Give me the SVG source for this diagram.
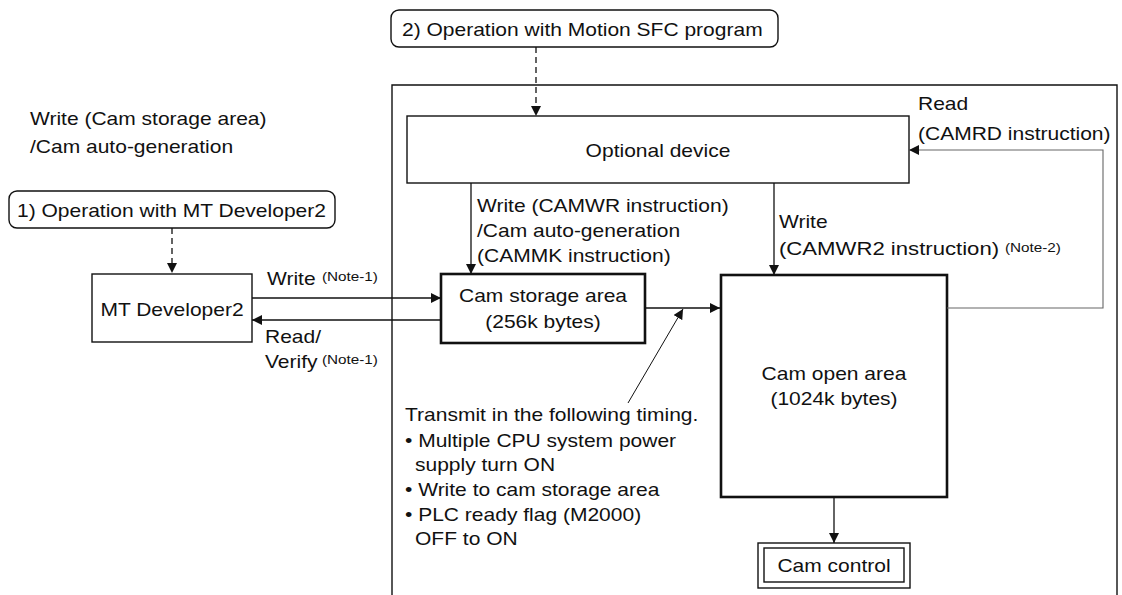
<svg xmlns="http://www.w3.org/2000/svg" width="1122" height="595" viewBox="0 0 1122 595">
<defs>
<style>
text{font-family:"Liberation Sans",Arial,sans-serif;font-size:18.6px;fill:#111}
.n{font-size:13.5px}
.mid{text-anchor:middle}
.box{fill:#fff;stroke:#111;stroke-width:1.4}
.thick{fill:#fff;stroke:#111;stroke-width:2.6}
.ln{fill:none;stroke:#111;stroke-width:1.3}
.dash{fill:none;stroke:#111;stroke-width:1.3;stroke-dasharray:6,4}
.gray{fill:none;stroke:#666;stroke-width:1.1}
</style>
<marker id="ah" viewBox="0 0 10 10" refX="10" refY="5" markerWidth="10" markerHeight="10" markerUnits="userSpaceOnUse" orient="auto">
<path d="M0,0 L10,5 L0,10 z" fill="#111"/>
</marker>
</defs>
<rect width="1122" height="595" fill="#fff"/>

<g id="frame">
<path class="box" d="M392,600 V85 H1117 V600" fill="none"/>
</g>

<g id="label-left">
<text transform="translate(30 125) scale(1.13 1)">Write (Cam storage area)</text>
<text transform="translate(30 153) scale(1.13 1)">/Cam auto-generation</text>
</g>

<g id="op1">
<rect class="box" x="9" y="191" width="326" height="37" rx="8"/>
<text transform="translate(17 217) scale(1.13 1)">1) Operation with MT Developer2</text>
</g>

<g id="op2">
<rect class="box" x="391" y="10" width="387" height="37" rx="8"/>
<text transform="translate(402 36) scale(1.13 1)">2) Operation with Motion SFC program</text>
</g>

<g id="mtdev">
<rect class="box" x="92" y="274" width="160" height="68"/>
<text class="mid" transform="translate(172 316) scale(1.13 1)">MT Developer2</text>
</g>

<g id="optional">
<rect class="box" x="407" y="116" width="502" height="67"/>
<text class="mid" transform="translate(658 157) scale(1.13 1)">Optional device</text>
</g>

<g id="storage">
<rect class="thick" x="441" y="274" width="204" height="69"/>
<text class="mid" transform="translate(543 302) scale(1.13 1)">Cam storage area</text>
<text class="mid" transform="translate(543 328) scale(1.13 1)">(256k bytes)</text>
</g>

<g id="openarea">
<rect class="thick" x="721" y="275" width="226" height="222"/>
<text class="mid" transform="translate(834 380) scale(1.13 1)">Cam open area</text>
<text class="mid" transform="translate(834 405) scale(1.13 1)">(1024k bytes)</text>
</g>

<g id="camcontrol">
<rect class="box" x="758" y="543" width="152" height="45"/>
<rect class="box" x="764" y="548" width="140" height="34"/>
<text class="mid" transform="translate(834 572) scale(1.13 1)">Cam control</text>
</g>

<g id="connectors">
<path class="dash" d="M172,228 V265"/>
<path d="M167,263 L177,263 L172,273 z" fill="#111"/>
<path class="dash" d="M536,47 V107"/>
<path d="M531,106 L541,106 L536,116 z" fill="#111"/>
<path class="ln" d="M252,298 H441" marker-end="url(#ah)"/>
<path class="ln" d="M441,320 H252" marker-end="url(#ah)"/>
<path class="ln" d="M471,183 V274" marker-end="url(#ah)"/>
<path class="ln" d="M774,183 V275" marker-end="url(#ah)"/>
<path class="ln" d="M645,308 H720" marker-end="url(#ah)"/>
<path class="ln" d="M628,403 L683,309" marker-end="url(#ah)" style="stroke-width:1"/>
<path class="ln" d="M834,497 V543" marker-end="url(#ah)"/>
<path class="gray" d="M947,308 H1103 V150 H910"/>
<path d="M919,145 L909,150 L919,155 z" fill="#111"/>
</g>

<g id="labels">
<text transform="translate(267 285) scale(1.13 1)">Write</text>
<text class="n" transform="translate(322 281) scale(1.13 1)">(Note-1)</text>
<text transform="translate(265 343) scale(1.13 1)">Read/</text>
<text transform="translate(265 368) scale(1.13 1)">Verify</text>
<text class="n" transform="translate(322 364) scale(1.13 1)">(Note-1)</text>
<text transform="translate(477 212) scale(1.13 1)">Write (CAMWR instruction)</text>
<text transform="translate(477 237) scale(1.13 1)">/Cam auto-generation</text>
<text transform="translate(477 262) scale(1.13 1)">(CAMMK instruction)</text>
<text transform="translate(779 228) scale(1.13 1)">Write</text>
<text transform="translate(779 255) scale(1.19 1)">(CAMWR2 instruction)</text>
<text class="n" transform="translate(1005 252) scale(1.13 1)">(Note-2)</text>
<text transform="translate(918 110) scale(1.13 1)">Read</text>
<text transform="translate(918 140) scale(1.13 1)">(CAMRD instruction)</text>
<text transform="translate(405 421) scale(1.13 1)">Transmit in the following timing.</text>
<text transform="translate(405 447) scale(1.13 1)">• Multiple CPU system power</text>
<text transform="translate(415 471) scale(1.13 1)">supply turn ON</text>
<text transform="translate(405 496) scale(1.13 1)">• Write to cam storage area</text>
<text transform="translate(405 521) scale(1.13 1)">• PLC ready flag (M2000)</text>
<text transform="translate(415 545) scale(1.13 1)">OFF to ON</text>
</g>
</svg>
